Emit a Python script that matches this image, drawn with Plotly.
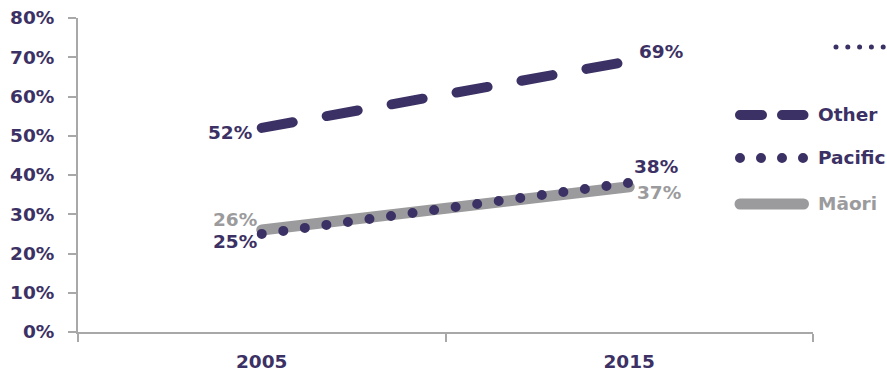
import plotly.graph_objects as go

# ---- data ----
years = ["2005", "2015"]
other = [52, 69]
pacific = [25, 38]
maori = [26, 37]
y_ticks = [0, 10, 20, 30, 40, 50, 60, 70, 80]
y_tick_labels = [f"{v}%" for v in y_ticks]

PURPLE = "#3c3164"
GREY = "#9b9b9d"
AXIS = "#a8a8a8"
FONT = "DejaVu Sans"
FSIZE = 18.5

W, H = 887, 376
ML, MR, MT, MB = 78, 74, 18, 44
PW, PH = W - ML - MR, H - MT - MB


def px(x):
    return (x - ML) / PW


def py(y):
    return (H - MB - y) / PH


fig = go.Figure()
fig.add_trace(go.Scatter(x=years, y=maori, mode="lines",
                         line=dict(color=GREY, width=11), hoverinfo="skip"))
fig.add_trace(go.Scatter(x=years, y=pacific, mode="lines",
                         line=dict(color=PURPLE, width=10, dash="0px,21.75px"), hoverinfo="skip"))
fig.add_trace(go.Scatter(x=years, y=other, mode="lines",
                         line=dict(color=PURPLE, width=10, dash="31.5px,34.5px"), hoverinfo="skip"))

# value labels at the line ends (x given as category index)
label_specs = [
    (other, PURPLE, [("right", -8, -5), ("left", 8, 10)]),
    (pacific, PURPLE, [("right", -3, -8), ("left", 3, 16)]),
    (maori, GREY, [("right", -3, 10), ("left", 6, -6)]),
]
for series, col, offs in label_specs:
    for i, (anchor, dx, dy) in enumerate(offs):
        fig.add_annotation(x=i, y=series[i], text=f"{series[i]}%",
                           showarrow=False, xanchor=anchor, yanchor="middle",
                           xshift=dx, yshift=dy,
                           font=dict(family=FONT, size=FSIZE, color=col, weight="bold"))

# legend drawn beside the lines
legend_items = [
    ("Other", PURPLE, 10, "22px,20px", 115),
    ("Pacific", PURPLE, 10, "0px,21px", 158),
    ("Māori", GREY, 11, "solid", 204),
]
for name, col, w, dash, yy in legend_items:
    fig.add_shape(type="line", xref="paper", yref="paper",
                  x0=px(740), x1=px(803.5), y0=py(yy), y1=py(yy),
                  line=dict(color=col, width=w, dash=dash))
    fig.add_annotation(xref="paper", yref="paper", x=px(816), y=py(yy - 1),
                       text=name, showarrow=False, xanchor="left", yanchor="middle",
                       font=dict(family=FONT, size=FSIZE, color=col, weight="bold"))
fig.add_shape(type="line", xref="paper", yref="paper",
              x0=px(836), x1=px(884), y0=py(47), y1=py(47),
              line=dict(color=PURPLE, width=5, dash="0px,11.8px"))

fig.update_layout(
    width=W, height=H,
    margin=dict(l=ML, r=MR, t=MT, b=MB, pad=0),
    paper_bgcolor="white", plot_bgcolor="white",
    showlegend=False,
    font=dict(family=FONT, color=PURPLE),
    xaxis=dict(type="category", range=[-0.5, 1.5], tickson="boundaries", automargin=False,
               showgrid=False, zeroline=False, showline=True, linecolor=AXIS, linewidth=2,
               ticks="outside", ticklen=8, tickwidth=2, tickcolor=AXIS,
               ticklabelstandoff=12,
               tickfont=dict(family=FONT, size=FSIZE, color=PURPLE, weight="bold")),
    yaxis=dict(range=[0, 80], tickvals=y_ticks, ticktext=y_tick_labels, automargin=False,
               showgrid=False, zeroline=False, showline=True, linecolor=AXIS, linewidth=2,
               ticks="outside", ticklen=8, tickwidth=2, tickcolor=AXIS,
               ticklabelstandoff=10,
               tickfont=dict(family=FONT, size=FSIZE, color=PURPLE, weight="bold")),
)

round_caps = """
var gd = document.getElementById('{plot_id}');
gd.querySelectorAll('.scatterlayer path.js-line, .shapelayer path').forEach(function (p) {
  p.style.strokeLinecap = 'round';
});
"""

fig.write_html("out.html", post_script=round_caps, config={"displayModeBar": False})
